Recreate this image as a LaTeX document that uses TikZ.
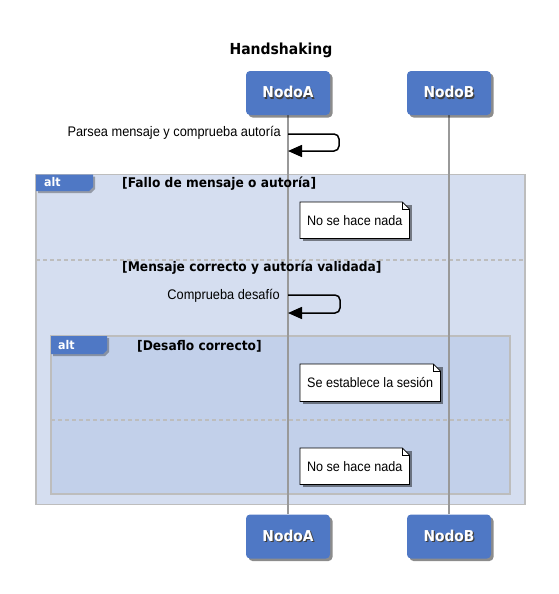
\documentclass[tikz,border=0pt]{standalone}
\usepackage{fontspec}
\setmainfont{Liberation Sans}
\newfontfamily\smallfont{Liberation Sans}[FakeStretch=0.92]
\newfontfamily\guardfont{DejaVu Sans}[FakeStretch=0.92]
\usetikzlibrary{arrows.meta,shadows}
\definecolor{boxblue}{HTML}{4F78C5}
\definecolor{outerfill}{HTML}{D5DEF0}
\definecolor{innerfill}{HTML}{C2D0EA}
\definecolor{framegray}{HTML}{BDBDBD}
\definecolor{lifegray}{HTML}{999999}
\pgfdeclarelayer{framelayer}
\pgfdeclarelayer{lifelayer}
\pgfdeclarelayer{notelayer}
\pgfsetlayers{framelayer,lifelayer,notelayer,main}
\newcommand\shtxt[1]{\makebox[0pt][l]{\kern1.2pt\raisebox{-1.2pt}{\color{black!75}#1}}#1}
\newcommand\mynote[1]{%
  \begin{pgfonlayer}{notelayer}
    \fill[black,opacity=0.45] ([shift={(3pt,-3pt)}]#1.south west) rectangle ([shift={(3pt,-3pt)}]#1.north east);
    \filldraw[fill=white,draw=black,line width=0.8pt] (#1.south west) -- (#1.north west) -- ([xshift=-7pt]#1.north east) -- ([yshift=-7pt]#1.north east) -- (#1.south east) -- cycle;
    \draw[black,line width=0.8pt] ([xshift=-7pt]#1.north east) |- ([yshift=-7pt]#1.north east);
  \end{pgfonlayer}}
\begin{document}
\begin{tikzpicture}[x=1pt,y=-1pt,
  participant/.style={rectangle,rounded corners=4pt,fill=boxblue,minimum width=84pt,minimum height=44pt,
    text=white,font=\guardfont\bfseries\fontsize{15}{18}\selectfont,
    drop shadow={shadow xshift=2.5pt,shadow yshift=-2.5pt,opacity=0.45,fill=black}},
  titletext/.style={font=\guardfont\bfseries\fontsize{15.2}{18}\selectfont,inner sep=0pt},
  guard/.style={font=\guardfont\bfseries\fontsize{13.3}{16}\selectfont,inner sep=0pt,anchor=west},
  tabtext/.style={font=\guardfont\bfseries\fontsize{12}{14}\selectfont,text=white,inner sep=0pt},
  msglabel/.style={font=\smallfont\fontsize{13.9}{16}\selectfont,inner sep=0pt,anchor=east},
  notetext/.style={font=\smallfont\fontsize{13.7}{16}\selectfont,inner sep=0pt,anchor=north west,minimum height=36pt},
  outerframe/.style={fill=outerfill,draw=framegray,line width=1.5pt},
  innerframe/.style={fill=innerfill,draw=framegray,line width=1.5pt},
  sepline/.style={draw=framegray,line width=1.2pt,dash pattern=on 4pt off 3pt},
  lifeline/.style={draw=lifegray,line width=1.5pt},
  msg/.style={draw=black,line width=1.5pt,rounded corners=5pt,-{Triangle[length=14pt,width=12pt]}},
]
\useasboundingbox (0,0) rectangle (559,594);
\node[titletext] (title) at (281,50) {Handshaking};
\node[participant] (a) at (288,93) {\shtxt{NodoA}};
\node[participant] (b) at (449,93) {\shtxt{NodoB}};
\node[participant] (a2) at (288,536.5) {\shtxt{NodoA}};
\node[participant] (b2) at (449,536.5) {\shtxt{NodoB}};

\begin{pgfonlayer}{framelayer}
  \draw[outerframe] (36,174.5) rectangle (525,504.5);
  \draw[sepline] (36,260) -- (525,260);
  \draw[innerframe] (51,336) rectangle (510,494);
  \draw[sepline] (51,420) -- (510,420);
  \fill[black,opacity=0.3] (38,176.5) -- (95,176.5) -- (95,189) -- (91,193) -- (38,193) -- cycle;
  \fill[boxblue] (36,174.5) -- (93,174.5) -- (93,187) -- (89,191) -- (36,191) -- cycle;
  \fill[black,opacity=0.3] (53,338) -- (109,338) -- (109,352) -- (105,356) -- (53,356) -- cycle;
  \fill[boxblue] (51,336) -- (107,336) -- (107,350) -- (103,354) -- (51,354) -- cycle;
\end{pgfonlayer}

\node[tabtext] (tab1) at (52.5,182.5) {alt};
\node[tabtext] (tab2) at (66.5,345) {alt};
\node[guard] (g1) at (122,184) {[Fallo de mensaje o autoría]};
\node[guard] (g2) at (122,268) {[Mensaje correcto y autoría validada]};
\node[guard] (g3) at (137,346) {[Desaflo correcto]};

\begin{pgfonlayer}{lifelayer}
  \draw[lifeline] (a) -- (a2);
  \draw[lifeline] (b) -- (b2);
\end{pgfonlayer}

\coordinate (s1) at (a |- 0,134);
\coordinate (e1) at (a |- 0,151);
\draw[msg] (s1) -- ++(51,0) -- ++(0,17) -- (e1);
\node[msglabel] (l1) at (281,133) {Parsea mensaje y comprueba autoría};

\coordinate (s2) at (a |- 0,295);
\coordinate (e2) at (a |- 0,313);
\draw[msg] (s2) -- ++(52,0) -- ++(0,18) -- (e2);
\node[msglabel] (l2) at (280,296) {Comprueba desafío};

\node[notetext,minimum width=109pt] (n1) at (300,202) {No se hace nada};
\mynote{n1}
\node[notetext,minimum width=140pt,minimum height=37pt] (n2) at (300,364) {Se establece la sesión};
\mynote{n2}
\node[notetext,minimum width=109pt] (n3) at (300,448) {No se hace nada};
\mynote{n3}
\end{tikzpicture}
\end{document}
